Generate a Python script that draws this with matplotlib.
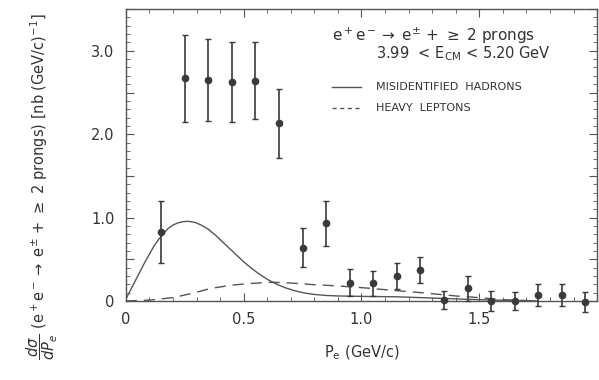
import matplotlib
matplotlib.use("Agg")
import matplotlib.pyplot as plt
from matplotlib.ticker import MultipleLocator, FuncFormatter

# Data points (P_e in GeV/c, dsigma/dP_e in nb/(GeV/c))
p_e = [0.15, 0.25, 0.35, 0.45, 0.55, 0.65, 0.75, 0.85, 0.95, 1.05,
       1.15, 1.25, 1.35, 1.45, 1.55, 1.65, 1.75, 1.85, 1.95]
dsig = [0.83, 2.67, 2.65, 2.63, 2.64, 2.13, 0.64, 0.93, 0.22, 0.21,
        0.30, 0.37, 0.01, 0.15, 0.00, 0.00, 0.07, 0.07, -0.01]
dsig_err = [0.37, 0.52, 0.49, 0.48, 0.46, 0.41, 0.23, 0.27, 0.16, 0.15,
            0.16, 0.16, 0.11, 0.15, 0.12, 0.11, 0.13, 0.13, 0.12]

# Misidentified hadrons curve (solid)
had_x = [0.0, 0.02, 0.04, 0.06, 0.08, 0.10, 0.12, 0.14, 0.16, 0.18, 0.20,
         0.22, 0.24, 0.26, 0.28, 0.30, 0.32, 0.35, 0.38, 0.41, 0.44, 0.47,
         0.50, 0.53, 0.56, 0.60, 0.64, 0.68, 0.72, 0.76, 0.80, 0.85, 0.90,
         1.00, 1.15, 1.30, 1.40, 1.50, 1.60, 1.75]
had_y = [0.02, 0.13, 0.24, 0.35, 0.46, 0.56, 0.66, 0.74, 0.81, 0.87, 0.91,
         0.935, 0.95, 0.955, 0.95, 0.935, 0.91, 0.86, 0.79, 0.71, 0.63, 0.55,
         0.47, 0.40, 0.335, 0.26, 0.20, 0.155, 0.12, 0.095, 0.078, 0.066, 0.06,
         0.055, 0.05, 0.035, 0.025, 0.015, 0.008, 0.0]

# Heavy leptons curve (dashed)
lep_x = [0.0, 0.10, 0.20, 0.28, 0.36, 0.45, 0.53, 0.62, 0.70, 0.80,
         0.90, 1.00, 1.10, 1.25, 1.40, 1.50, 1.60, 1.75]
lep_y = [0.0, 0.01, 0.04, 0.09, 0.15, 0.19, 0.21, 0.225, 0.215, 0.195,
         0.18, 0.16, 0.135, 0.10, 0.06, 0.04, 0.015, 0.0]

txt = '#333333'
plt.rcParams['font.family'] = ['DejaVu Sans']
plt.rcParams['mathtext.fontset'] = 'dejavusans'

fig = plt.figure(figsize=(5.99, 3.80), dpi=100)
ax = fig.add_axes([0.210, 0.208, 0.787, 0.768])

ax.plot(had_x, had_y, color='#555555', lw=1.0, ls='-')
ax.plot(lep_x, lep_y, color='#555555', lw=1.0, ls=(0, (8, 5)))
ax.errorbar(p_e, dsig, yerr=dsig_err, fmt='o', color='#3a3a3a', ms=4.5,
            elinewidth=1.2, capsize=2.5, capthick=1.0, clip_on=False, zorder=5)

ax.set_xlim(0, 2.0)
ax.set_ylim(0, 3.5)
ax.xaxis.set_major_locator(MultipleLocator(0.5))
ax.xaxis.set_minor_locator(MultipleLocator(0.1))
ax.yaxis.set_major_locator(MultipleLocator(0.5))
ax.yaxis.set_minor_locator(MultipleLocator(0.1))

def xfmt(v, pos):
    if abs(v) < 1e-9:
        return '0'
    if v > 1.9:
        return ''
    return '%.1f' % v

def yfmt(v, pos):
    if abs(v) < 1e-9:
        return '0'
    if abs(v - round(v)) < 1e-6:
        return '%.1f' % v
    return ''

ax.xaxis.set_major_formatter(FuncFormatter(xfmt))
ax.yaxis.set_major_formatter(FuncFormatter(yfmt))
ax.tick_params(which='both', direction='in', top=True, right=True,
               colors='#555555', labelcolor=txt, labelsize=10.5)
ax.tick_params(which='major', length=6, width=0.8, pad=8)
ax.tick_params(which='minor', length=3, width=0.6)
for s in ax.spines.values():
    s.set_color('#555555')
    s.set_linewidth(1.0)

ax.set_xlabel(r'P$_{\rm e}$ (GeV/c)', fontsize=10.5, color=txt, labelpad=12)
fig.text(0.07, 0.51,
         r'$\dfrac{d\sigma}{dP_e}$ (e$^+$e$^-$$\rightarrow$ e$^{\pm}$ + $\geq$ 2 prongs) [nb (GeV/c)$^{-1}$]',
         fontsize=10.5, color=txt, rotation=90, ha='center', va='center')

ax.text(0.875, 3.18, r'e$^+$e$^-$$\rightarrow$ e$^{\pm}$ + $\geq$ 2 prongs',
        fontsize=11, color=txt, va='center')
ax.text(1.06, 2.96, r'3.99  < E$_{\rm CM}$ < 5.20 GeV',
        fontsize=10.5, color=txt, va='center')
ax.plot([0.875, 1.0], [2.57, 2.57], color='#555555', lw=1.0)
ax.text(1.06, 2.57, 'MISIDENTIFIED  HADRONS', fontsize=8, color=txt, va='center')
ax.plot([0.875, 1.0], [2.32, 2.32], color='#555555', lw=1.0, ls=(0, (3, 2.5)))
ax.text(1.06, 2.32, 'HEAVY  LEPTONS', fontsize=8, color=txt, va='center')

fig.savefig('out.png', dpi=100)
